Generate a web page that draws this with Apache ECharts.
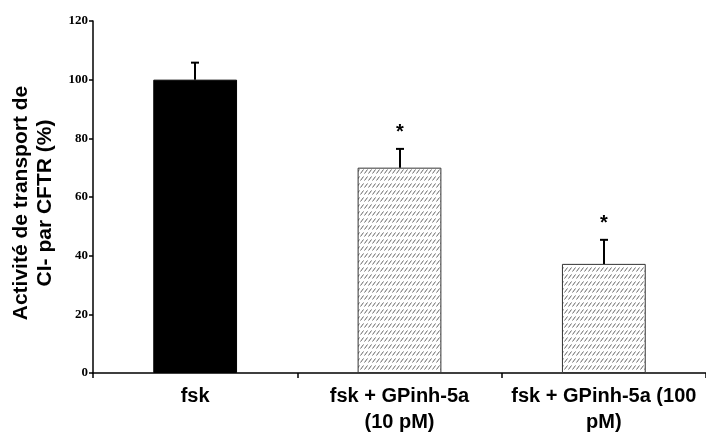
<!DOCTYPE html>
<html>
<head>
<meta charset="utf-8">
<script src="https://cdn.jsdelivr.net/npm/echarts@6/dist/echarts.min.js"></script>
<style>
html,body{margin:0;padding:0;background:#fff;}
#chart{width:706px;height:433px;}
</style>
</head>
<body>
<div id="chart"></div>
<script>
var categories = ['fsk', 'fsk + GPinh-5a\n(10 pM)', 'fsk + GPinh-5a (100\npM)'];
var values = [100, 70, 37.2];
var errors = [5.8, 6.4, 8.2];
var signif = ['', '*', '*'];
var yTicks = [0, 20, 40, 60, 80, 100, 120];

// motif hachuré des barres traitées
function hatch(){
	var c = document.createElement('canvas');
	c.width = 4; c.height = 7;
	var ctx = c.getContext('2d');
	ctx.fillStyle = '#fff';
	ctx.fillRect(0, 0, 4, 7);
	ctx.strokeStyle = '#555';
	ctx.lineWidth = 0.9;
	ctx.beginPath();
	ctx.moveTo(0.5, 5.5);
	ctx.lineTo(3.5, 1.5);
	ctx.stroke();
	return c;
}
var hatchFill = {image: hatch(), repeat: 'repeat'};

var barData = [];
for (var i = 0; i < values.length; i++) {
	barData.push({
		value: values[i],
		itemStyle: i == 0 ? {color: '#000', borderColor: '#000', borderWidth: 1}
			: {color: hatchFill, borderColor: '#333', borderWidth: 1}
	});
}
var errData = [];
for (var i = 0; i < values.length; i++) errData.push([i, values[i], values[i] + errors[i], signif[i]]);

var myChart = echarts.init(document.getElementById('chart'));
var option = {
	animation: false,
	backgroundColor: '#fff',
	grid: {left: 93, right: 0, top: 21, bottom: 60, outerBoundsMode: 'none', containLabel: false},
	xAxis: {
		type: 'category',
		data: categories,
		axisLine: {lineStyle: {color: '#000', width: 1.5}},
		axisTick: {show: true, length: 5, lineStyle: {color: '#000', width: 1.5}},
		axisLabel: {
			color: '#000', fontFamily: 'Liberation Sans', fontWeight: 'bold',
			fontSize: 20, lineHeight: 26, margin: 10, interval: 0
		}
	},
	yAxis: {
		type: 'value',
		min: 0, max: 120, interval: 20,
		name: 'Activité de transport de\nCI- par CFTR (%)',
		nameLocation: 'middle',
		nameGap: 36,
		nameTextStyle: {
			color: '#000', fontFamily: 'Liberation Sans', fontWeight: 'bold',
			fontSize: 21, lineHeight: 24, padding: [0, 12, 0, 0]
		},
		axisLine: {show: true, lineStyle: {color: '#000', width: 1.5}},
		axisTick: {show: true, length: 4, lineStyle: {color: '#000', width: 1.5}},
		splitLine: {show: false},
		axisLabel: {
			color: '#000', fontFamily: 'Liberation Serif', fontWeight: 'bold',
			fontSize: 13, margin: 5
		}
	},
	series: [{
		type: 'bar',
		data: barData,
		barWidth: '41%'
	}, {
		type: 'custom',
		data: errData,
		z: 5,
		renderItem: function(params, api){
			var base = api.coord([api.value(0), api.value(1)]);
			var top = api.coord([api.value(0), api.value(2)]);
			var x = Math.round(base[0]);
			var kids = [
				{type: 'line', shape: {x1: x, y1: base[1], x2: x, y2: top[1]}, style: {stroke: '#000', lineWidth: 2}},
				{type: 'line', shape: {x1: x - 4, y1: top[1], x2: x + 4, y2: top[1]}, style: {stroke: '#000', lineWidth: 2}}
			];
			var s = errData[params.dataIndex][3];
			if (s) kids.push({type: 'text', x: x, y: top[1] - 16, style: {
				text: s, fill: '#000', font: 'bold 20px Liberation Sans', align: 'center', verticalAlign: 'middle'
			}});
			return {type: 'group', children: kids};
		}
	}]
};
myChart.setOption(option);
</script>
</body>
</html>
